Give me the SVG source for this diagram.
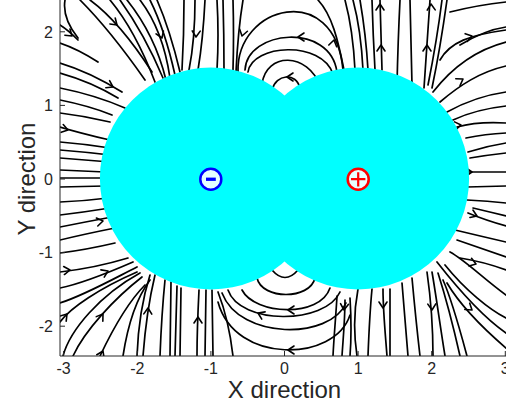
<svg xmlns="http://www.w3.org/2000/svg" xmlns:xlink="http://www.w3.org/1999/xlink" width="506" height="406" viewBox="0 0 506 406">
<style>
.s{fill:none;stroke:#000;stroke-width:1.7;stroke-linecap:round;stroke-linejoin:round}
.ax{stroke:#262626;stroke-width:1;fill:none}
.tk{font-family:"Liberation Sans",Arial,sans-serif;font-size:16px;fill:#262626}
.lb{font-family:"Liberation Sans",Arial,sans-serif;font-size:24px;fill:#262626}
.reg{fill:#00ffff}
</style>
<defs>
<clipPath id="plot"><rect x="60" y="0" width="446" height="356"/></clipPath>
<path id="a" d="M-6,-4 L0,0 L-6,4" fill="none" stroke="#000" stroke-width="1.6" stroke-linecap="round" stroke-linejoin="round"/>
</defs>
<g id="connectors" clip-path="url(#plot)">
<g class="s">
<path d="M65,0 Q62,18 78,38"/>
<path d="M60,25 Q68,30 78,40"/>
<path d="M60,43 Q78,49 98,62"/>
<path d="M60,63 Q90,72 122,92"/>
<path d="M60,73 Q92,82 118,98"/>
<path d="M60,88 Q95,95 125,108"/>
<path d="M60,100 Q90,106 112,115"/>
<path d="M60,113 Q85,116 110,122"/>
<path d="M60,127 Q80,133 110,140"/>
<path d="M80,0 Q110,30 145,80"/>
<path d="M90,0 Q120,22 152,72"/>
<path d="M110,0 Q135,30 155,82"/>
<path d="M120,0 Q145,35 163,78"/>
<path d="M127,0 Q155,35 166,80"/>
<path d="M140,0 Q163,30 170,78"/>
<path d="M150,0 Q165,30 175,75"/>
<path d="M157,0 Q170,30 180,72"/>
<path d="M184,0 Q184,35 182,70"/>
<path d="M195,0 Q195,40 189,70"/>
<path d="M205,0 Q203,40 198,70"/>
<path d="M217,0 Q219,35 217,70"/>
<path d="M223,0 Q224,35 224,70"/>
<path d="M233,0 Q234,35 233,70"/>
<path d="M243,0 Q238,30 236,72"/>
<path d="M238,72 C236,5 335,-20 343,70"/>
<path d="M245,70 C247,30 330,22 337,72"/>
<path d="M248,72 C252,44 322,40 333,74"/>
<path d="M262,84 C266,52 308,52 320,86"/>
<path d="M272,90 C276,74 296,72 300,88"/>
<path d="M318,0 C332,15 338,40 344,70"/>
<path d="M345,0 Q353,30 355,70"/>
<path d="M353,0 Q361,30 363,70"/>
<path d="M360,0 Q366,35 368,70"/>
<path d="M372,0 Q373,35 375,70"/>
<path d="M380,0 Q381,35 382,70"/>
<path d="M400,0 Q398,40 397,85"/>
<path d="M410,0 Q411,40 412,85"/>
<path d="M430,0 Q427,45 424,88"/>
<path d="M442,0 Q437,40 428,85"/>
<path d="M447,0 Q440,50 432,88"/>
<path d="M440,60 C450,42 470,35 506,30"/>
<path d="M450,12 Q478,5 506,2"/>
<path d="M460,45 Q485,30 506,27"/>
<path d="M433,92 C450,70 475,50 506,42"/>
<path d="M440,102 C460,85 480,72 506,66"/>
<path d="M447,112 C465,102 485,95 506,92"/>
<path d="M453,120 C470,112 488,108 506,106"/>
<path d="M457,127 C475,122 490,122 506,123"/>
<path d="M466,138 Q485,134 506,133"/>
<path d="M468,152 Q487,146 506,143"/>
<path d="M470,158 Q488,155 506,153"/>
<path d="M466,172 L506,172"/>
<path d="M467,187 L506,186"/>
<path d="M467,200 Q488,201 506,203"/>
<path d="M473,208 Q490,212 506,216"/>
<path d="M468,213 Q485,220 506,226"/>
<path d="M455,230 Q480,236 506,242"/>
<path d="M457,240 Q480,248 506,257"/>
<path d="M450,252 C465,260 485,280 506,295"/>
<path d="M460,258 Q485,262 506,270"/>
<path d="M437,262 C455,285 480,315 506,333"/>
<path d="M445,265 C465,290 490,310 506,318"/>
<path d="M447,283 C460,305 485,330 506,348"/>
<path d="M443,280 C452,300 460,330 467,356"/>
<path d="M438,273 C445,295 453,325 460,356"/>
<path d="M432,272 C436,295 440,325 445,356"/>
<path d="M427,272 C431,300 433,330 433,356"/>
<path d="M412,278 C414,300 417,330 420,356"/>
<path d="M402,283 C404,305 406,330 408,356"/>
<path d="M390,289 L390,356"/>
<path d="M383,289 C383,310 385,330 387,356"/>
<path d="M372,289 C370,310 369,330 368,356"/>
<path d="M358,289 C354,310 353,330 357,356"/>
<path d="M337,296 C336,315 334,335 333,356"/>
<path d="M345,300 C345,320 343,340 342,356"/>
<path d="M350,298 Q352,330 350,356"/>
<path d="M272,270 Q285,285 298,270"/>
<path d="M257,278 C262,300 310,300 315,278"/>
<path d="M242,290 C255,315 320,318 330,288"/>
<path d="M228,290 C240,325 325,325 340,292"/>
<path d="M222,293 C240,340 330,340 346,303"/>
<path d="M218,302 C235,365 335,362 350,315"/>
<path d="M212,290 L213,356"/>
<path d="M233,356 C230,330 225,310 218,292"/>
<path d="M60,253 Q85,250 115,243"/>
<path d="M60,272 Q95,268 128,258"/>
<path d="M60,288 C80,284 110,272 133,262"/>
<path d="M60,303 C85,295 115,278 137,267"/>
<path d="M60,322 C70,308 100,288 137,272"/>
<path d="M63,356 C70,330 100,295 140,273"/>
<path d="M73,356 C85,330 115,298 142,277"/>
<path d="M100,356 C110,335 125,305 145,285"/>
<path d="M123,356 C127,330 135,300 150,280"/>
<path d="M137,356 C138,330 142,300 150,275"/>
<path d="M143,356 C145,330 149,300 155,275"/>
<path d="M160,356 C161,330 163,300 165,280"/>
<path d="M170,356 L171,282"/>
<path d="M175,356 L177,286"/>
<path d="M180,356 L181,288"/>
<path d="M197,356 C197,330 198,310 199,290"/>
<path d="M205,356 L206,290"/>
<path d="M60,142 Q85,144 110,148"/>
<path d="M60,150 Q85,152 110,155"/>
<path d="M60,158 Q85,160 110,162"/>
<path d="M60,170 L105,172"/>
<path d="M60,178 L105,178"/>
<path d="M60,187 L105,186"/>
<path d="M60,202 Q85,201 108,198"/>
<path d="M60,215 Q85,212 110,208"/>
<path d="M60,227 Q85,222 112,217"/>
<path d="M60,240 Q85,234 115,228"/>
</g>
<g id="arrows">
<use xlink:href="#a" transform="translate(72,36) rotate(40)"/>
<use xlink:href="#a" transform="translate(113,87) rotate(28)"/>
<use xlink:href="#a" transform="translate(68,130) rotate(15)"/>
<use xlink:href="#a" transform="translate(117,25) rotate(42)"/>
<use xlink:href="#a" transform="translate(162,38) rotate(68)"/>
<use xlink:href="#a" transform="translate(196,37) rotate(92)"/>
<use xlink:href="#a" transform="translate(242,36) rotate(105)"/>
<use xlink:href="#a" transform="translate(298,37) rotate(180)"/>
<use xlink:href="#a" transform="translate(287,77) rotate(180)"/>
<use xlink:href="#a" transform="translate(334,40) rotate(-78)"/>
<use xlink:href="#a" transform="translate(381,45) rotate(-90)"/>
<use xlink:href="#a" transform="translate(380,4) rotate(-90)"/>
<use xlink:href="#a" transform="translate(427,45) rotate(-90)"/>
<use xlink:href="#a" transform="translate(431,4) rotate(-92)"/>
<use xlink:href="#a" transform="translate(472,36) rotate(-15)"/>
<use xlink:href="#a" transform="translate(463,79) rotate(-32)"/>
<use xlink:href="#a" transform="translate(461,125) rotate(-8)"/>
<use xlink:href="#a" transform="translate(472,172) rotate(0)"/>
<use xlink:href="#a" transform="translate(477,216) rotate(22)"/>
<use xlink:href="#a" transform="translate(476,264) rotate(18)"/>
<use xlink:href="#a" transform="translate(472,310) rotate(38)"/>
<use xlink:href="#a" transform="translate(432,310) rotate(88)"/>
<use xlink:href="#a" transform="translate(383,308) rotate(90)"/>
<use xlink:href="#a" transform="translate(344,310) rotate(95)"/>
<use xlink:href="#a" transform="translate(288,310) rotate(180)"/>
<use xlink:href="#a" transform="translate(258,313) rotate(205)"/>
<use xlink:href="#a" transform="translate(288,350) rotate(180)"/>
<use xlink:href="#a" transform="translate(70,270) rotate(-5)"/>
<use xlink:href="#a" transform="translate(108,271) rotate(-25)"/>
<use xlink:href="#a" transform="translate(67,314) rotate(-50)"/>
<use xlink:href="#a" transform="translate(103,314) rotate(-55)"/>
<use xlink:href="#a" transform="translate(103,351) rotate(-65)"/>
<use xlink:href="#a" transform="translate(148,308) rotate(-88)"/>
<use xlink:href="#a" transform="translate(198,317) rotate(-90)"/>
<use xlink:href="#a" transform="translate(103,221) rotate(-10)"/>
</g>
</g>
<g id="region">
<circle class="reg" cx="210.9" cy="178.5" r="111"/>
<circle class="reg" cx="358.1" cy="178.5" r="111"/>
</g>
<g id="charge-neg">
<circle cx="210.8" cy="179.2" r="10.5" fill="#e6ffff" stroke="#0000ff" stroke-width="2.5"/>
<rect x="206" y="177.6" width="9.8" height="3.3" fill="#0000ff"/>
</g>
<g id="charge-pos">
<circle cx="358.2" cy="179.2" r="10.5" fill="#e6ffff" stroke="#ff0000" stroke-width="2.5"/>
<path d="M351,179.2 H365.4 M358.2,172.2 V186.4" stroke="#ff0000" stroke-width="2.2"/>
</g>
<g id="axes">
<path class="ax" d="M60,0 V356 H506"/>
<path class="ax" d="M63.6,356 v-5 M137.3,356 v-5 M210.9,356 v-5 M284.5,356 v-5 M358.1,356 v-5 M431.7,356 v-5 M505.3,356 v-5 M60,31.8 h5 M60,105.4 h5 M60,179 h5 M60,252.6 h5 M60,326.2 h5"/>
<g class="tk" text-anchor="middle">
<text x="63.6" y="374">-3</text>
<text x="137.3" y="374">-2</text>
<text x="210.9" y="374">-1</text>
<text x="284.5" y="374">0</text>
<text x="358.1" y="374">1</text>
<text x="431.7" y="374">2</text>
<text x="505.3" y="374">3</text>
</g>
<g class="tk" text-anchor="end">
<text x="53" y="37.5">2</text>
<text x="53" y="111">1</text>
<text x="53" y="184.7">0</text>
<text x="53" y="258.3">-1</text>
<text x="53" y="331.9">-2</text>
</g>
<text class="lb" x="284.5" y="398" text-anchor="middle">X direction</text>
<text class="lb" transform="translate(35,179) rotate(-90)" text-anchor="middle">Y direction</text>
</g>
</svg>
